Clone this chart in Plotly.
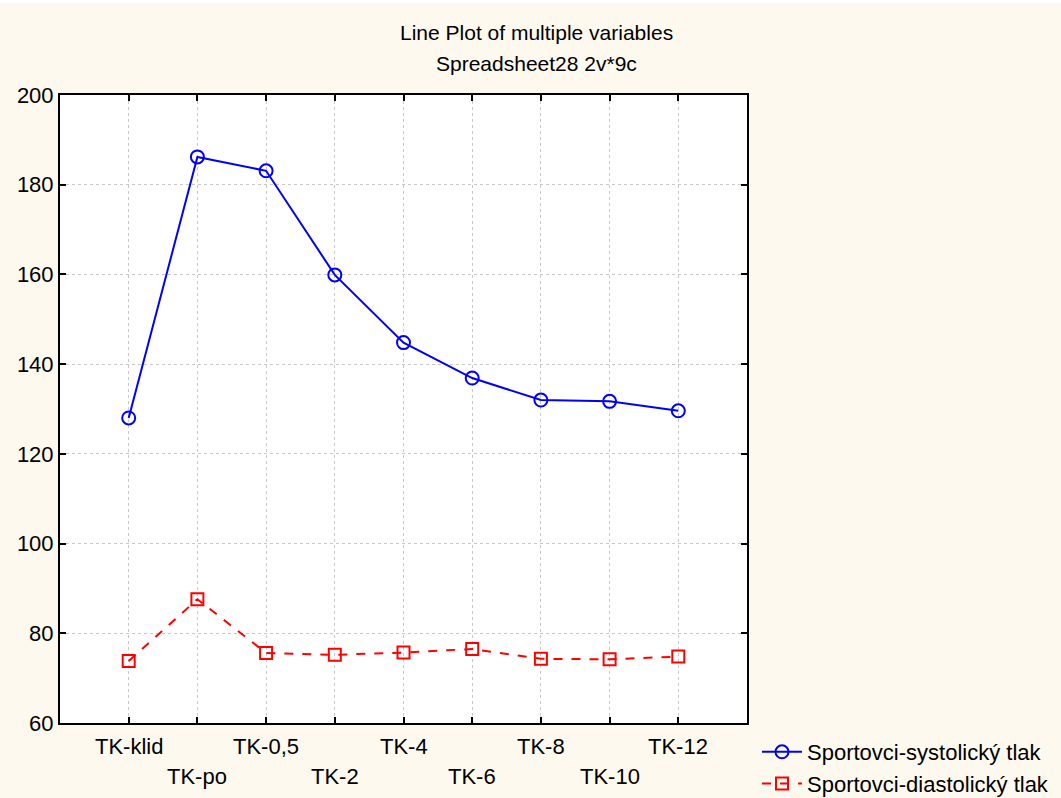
import plotly.graph_objects as go

# Measurement points (blood pressure over time)
categories = ["TK-klid", "TK-po", "TK-0,5", "TK-2", "TK-4", "TK-6", "TK-8", "TK-10", "TK-12"]
systolic = [128.0, 186.2, 183.1, 159.9, 144.8, 136.9, 132.0, 131.7, 129.6]
diastolic = [73.8, 87.6, 75.6, 75.2, 75.7, 76.5, 74.3, 74.2, 74.8]
y_ticks = [60, 80, 100, 120, 140, 160, 180, 200]

series_names = ["Sportovci-systolický tlak", "Sportovci-diastolický tlak"]
title_lines = ["Line Plot of multiple variables", "Spreadsheet28 2v*9c"]

FONT = "Liberation Sans, Arial, sans-serif"
BG = "#FDF9EE"

W, H = 1061, 798
L, R, T, B = 60, 314, 95, 75
PW, PH = W - L - R, H - T - B


def px_to_paper_y(ypx):
    return (H - B - ypx) / PH


def px_to_paper_x(xpx):
    return (xpx - L) / PW


idx = list(range(len(categories)))

fig = go.Figure()
fig.add_trace(go.Scatter(
    x=idx, y=systolic, name=series_names[0], mode="lines+markers",
    line=dict(color="#0000FF", width=2),
    marker=dict(symbol="circle-open", size=13, color="#0000FF", line=dict(width=2)),
))
fig.add_trace(go.Scatter(
    x=idx, y=diastolic, name=series_names[1], mode="lines+markers",
    line=dict(color="#FF0000", width=2, dash="dash"),
    marker=dict(symbol="square-open", size=12, color="#FF0000", line=dict(width=2)),
))

annotations = []
# Staggered category labels below the axis
for i, lab in enumerate(categories):
    annotations.append(dict(
        x=i, y=0, xref="x", yref="paper", text=lab, showarrow=False,
        xanchor="center", yanchor="top", yshift=-9 if i % 2 == 0 else -39,
        font=dict(family=FONT, size=22, color="black"),
    ))

# Two-line title
for line, ypx in zip(title_lines, [32, 63]):
    annotations.append(dict(
        x=px_to_paper_x(536), y=px_to_paper_y(ypx), xref="paper", yref="paper",
        text=line, showarrow=False, xanchor="center", yanchor="middle",
        font=dict(family=FONT, size=21, color="black"),
    ))

fig.update_layout(
    width=W, height=H,
    paper_bgcolor=BG, plot_bgcolor="white",
    margin=dict(l=L, r=R, t=T, b=B, autoexpand=False),
    font=dict(family=FONT, size=22, color="black"),
    showlegend=True,
    legend=dict(
        x=px_to_paper_x(757), y=px_to_paper_y(731), xanchor="left", yanchor="top",
        bgcolor="rgba(0,0,0,0)", font=dict(family=FONT, size=22, color="black"),
        tracegroupgap=0, itemwidth=40,
    ),
    annotations=annotations,
    shapes=[dict(
        type="rect", xref="paper", yref="paper",
        x0=px_to_paper_x(0), x1=px_to_paper_x(W),
        y0=px_to_paper_y(3), y1=px_to_paper_y(0),
        fillcolor="white", line=dict(width=0), layer="below",
    )],
)

fig.update_xaxes(
    range=[-1, 9], tickvals=idx, ticktext=[""] * len(idx),
    showgrid=True, gridcolor="#C8C8C8", griddash="dot", gridwidth=1,
    showline=True, linecolor="black", linewidth=2, mirror="ticks",
    ticks="inside", ticklen=6, tickwidth=2, tickcolor="black",
    zeroline=False,
)
fig.update_yaxes(
    range=[60, 200], tickvals=y_ticks,
    showgrid=True, gridcolor="#C8C8C8", griddash="dot", gridwidth=1,
    showline=True, linecolor="black", linewidth=2, mirror="ticks",
    ticks="inside", ticklen=6, tickwidth=2, tickcolor="black",
    tickfont=dict(family=FONT, size=22), zeroline=False,
)

fig.write_html("out.html")
